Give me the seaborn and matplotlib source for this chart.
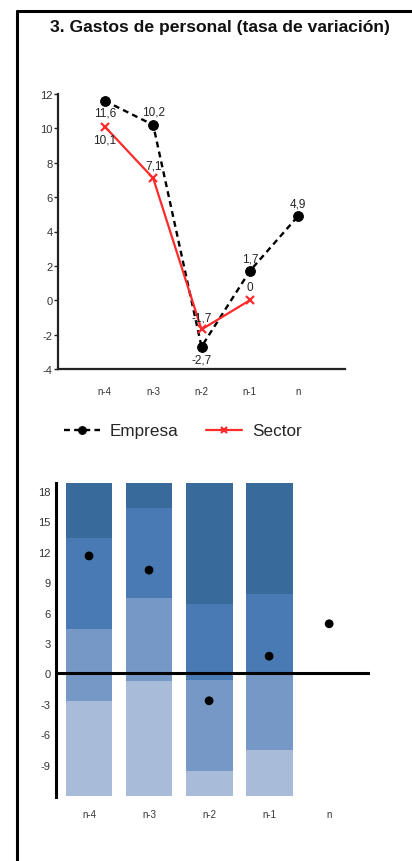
import numpy as np
import pandas as pd
import matplotlib
matplotlib.use("Agg")
import matplotlib.pyplot as plt
from matplotlib.lines import Line2D
import seaborn as sns

# data
cats = ["n-4", "n-3", "n-2", "n-1", "n"]
empresa = [11.6, 10.2, -2.7, 1.7, 4.9]
sector = [10.1, 7.1, -1.7, 0.0, np.nan]
empresa_lbl = ["11,6", "10,2", "-2,7", "1,7", "4,9"]
sector_lbl = ["10,1", "7,1", "-1,7", "0", ""]

# quartile bands of the sector (bottom -> top), only for n-4 .. n-1
band_cats = ["n-4", "n-3", "n-2", "n-1"]
band_min = [-12.1, -12.1, -12.1, -12.1]
band_q1 = [-2.7, -0.7, -9.6, -7.6]
band_q2 = [4.4, 7.4, -0.6, 0.0]
band_q3 = [13.4, 16.3, 6.9, 7.85]
band_max = [18.8, 18.8, 18.8, 18.8]
band_colors = ["#a8bcd9", "#7598c6", "#4a7ab4", "#386a9c"]

sns.set_theme(style="white")
plt.rcParams["font.family"] = ["Liberation Sans", "DejaVu Sans"]
plt.rcParams["axes.unicode_minus"] = False

fig = plt.figure(figsize=(4.12, 8.62), dpi=100)

# frame (top + left only)
fig.add_artist(Line2D([17/412, 1], [1-12/862, 1-12/862], color="black", lw=2.2))
fig.add_artist(Line2D([17/412, 17/412], [0, 1-12/862], color="black", lw=2.2))

fig.text(0.534, 0.968, "3. Gastos de personal (tasa de variación)",
         ha="center", va="center", fontsize=12.6, fontweight="bold", color="#111111")

# -------------------------------
# line chart
# -------------------------------
ax1 = fig.add_axes([58/412, 1-370/862, 287/412, 275/862])
df = pd.DataFrame({"cat": cats, "pos": range(len(cats)),
                   "Empresa": empresa, "Sector": sector})

sns.lineplot(data=df, x="pos", y="Empresa", ax=ax1, color="black", lw=1.7,
             linestyle=(0, (2.5, 1.8)), marker="o", markersize=7,
             markeredgecolor="black", label="Empresa")
sns.lineplot(data=df, x="pos", y="Sector", ax=ax1, color="#ff2a2a", lw=1.6,
             marker="x", markersize=6, markeredgewidth=1.6,
             markeredgecolor="#ff2a2a", label="Sector")

e_off = [-12, 13, -13, 13, 13]
s_off = [-13, 13, 12, 13, 0]
for i in range(len(cats)):
    ax1.annotate(empresa_lbl[i], (i, empresa[i]), xytext=(0, e_off[i]),
                 textcoords="offset pixels", ha="center", va="center",
                 fontsize=8.5, color="#222222")
    if sector_lbl[i]:
        ax1.annotate(sector_lbl[i], (i, sector[i]), xytext=(0, s_off[i]),
                     textcoords="offset pixels", ha="center", va="center",
                     fontsize=8.5, color="#222222")

ax1.set_xlim(-0.97, 4.97)
ax1.set_ylim(-4, 12)
ax1.set_yticks(range(-4, 13, 2))
ax1.set_xticks(range(len(cats)))
ax1.set_xticklabels(cats)
ax1.set_xlabel("")
ax1.set_ylabel("")
for s in ["top", "right"]:
    ax1.spines[s].set_visible(False)
for s in ["left", "bottom"]:
    ax1.spines[s].set_color("#222222")
    ax1.spines[s].set_linewidth(1.6)
ax1.tick_params(axis="y", length=3, width=1, color="#222222", labelsize=8,
                labelcolor="#333333", pad=1, left=True)
ax1.tick_params(axis="x", length=0, labelsize=7, labelcolor="#333333", pad=12)
handles, labels = ax1.get_legend_handles_labels()
ax1.get_legend().remove()

fig.legend(handles, labels, loc="center", ncol=2,
           bbox_to_anchor=(183/412, 1-432/862), frameon=False, fontsize=12.3,
           handlelength=2.1, columnspacing=1.6, handletextpad=0.6,
           markerscale=0.8)

# -------------------------------
# quartile bars + company dots
# -------------------------------
ax2 = fig.add_axes([56/412, 1-798/862, 314/412, 314/862])
edges = [band_min, band_q1, band_q2, band_q3, band_max]
xpos = np.arange(len(band_cats))
for k in range(4):
    lo = np.array(edges[k])
    hi = np.array(edges[k+1])
    ax2.bar(xpos, hi - lo, bottom=lo, width=0.78, color=band_colors[k],
            linewidth=0)

ax2.axhline(0, color="black", lw=2.2)
sns.scatterplot(x=np.arange(len(cats)), y=empresa, ax=ax2, color="black",
                s=40, edgecolor="none", zorder=5)

ax2.set_xlim(-0.55, 4.68)
ax2.set_ylim(-12.2, 18.8)
ax2.set_yticks(range(-9, 19, 3))
ax2.set_xticks(range(len(cats)))
ax2.set_xticklabels(cats)
for s in ["top", "right", "bottom"]:
    ax2.spines[s].set_visible(False)
ax2.spines["left"].set_color("black")
ax2.spines["left"].set_linewidth(2.2)
ax2.tick_params(axis="y", length=0, labelsize=8, labelcolor="#333333", pad=4)
ax2.tick_params(axis="x", length=0, labelsize=7, labelcolor="#333333", pad=9)

fig.savefig("out.png", dpi=100)
